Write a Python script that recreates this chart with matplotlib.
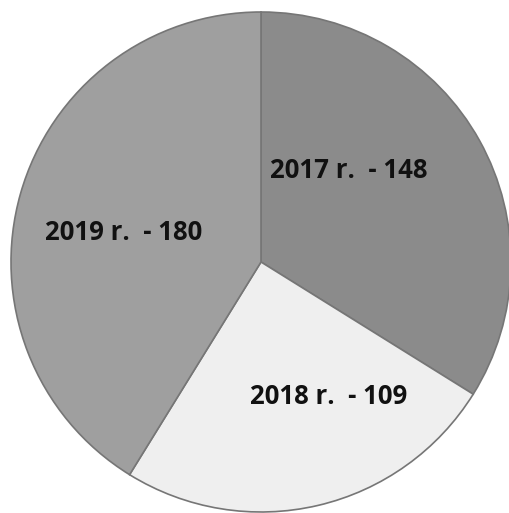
import matplotlib.pyplot as plt

years = ['2017', '2018', '2019']
values = [148, 109, 180]
colors = ['#8b8b8b', '#efefef', '#9f9f9f']
H = 513
# label centres in pixel coords (x, y from top)
label_pos = [(349, 170), (329, 397), (124, 233)]

fig = plt.figure(figsize=(5.09, 5.13), dpi=100)
ax = fig.add_axes([0, 0, 1, 1])
ax.pie(values, colors=colors, startangle=90, counterclock=False,
       center=(261, H - 262), radius=250,
       wedgeprops=dict(edgecolor='#767676', linewidth=1.2))
ax.set_xlim(0, 509)
ax.set_ylim(0, H)
ax.set_aspect('equal')
ax.axis('off')

for y, v, (px, py) in zip(years, values, label_pos):
    ax.text(px, H - py, f'{y} r.  - {v}', ha='center', va='center',
            fontsize=18.5, fontweight='bold', family=['Open Sans', 'DejaVu Sans'],
            color='#111111')

fig.savefig('out.png', dpi=100, facecolor='white')
